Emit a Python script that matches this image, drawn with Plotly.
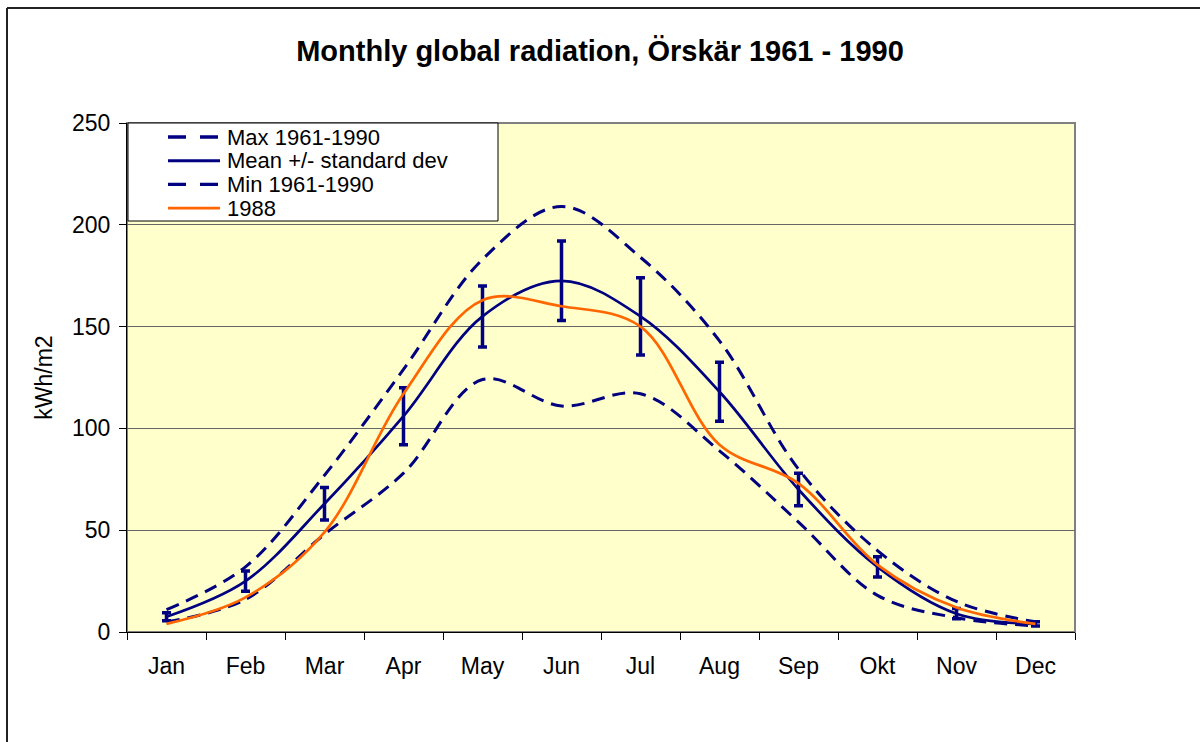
import plotly.graph_objects as go

months = ["Jan", "Feb", "Mar", "Apr", "May", "Jun", "Jul", "Aug", "Sep", "Okt", "Nov", "Dec"]
max_vals = [11, 32, 77, 129, 183, 209, 184, 143, 80, 40, 15, 5]
mean_vals = [7.5, 25, 63, 106, 155, 172.5, 155, 118, 70, 32, 9, 4]
sd_vals = [2, 5, 8, 14, 15, 19.5, 19, 14.5, 8, 5, 2.5, 1]
min_vals = [5, 16, 48, 78, 124, 111, 117, 89, 54, 18, 7, 3]
y1988 = [4, 17, 49, 117, 163, 160, 150, 92, 73, 33, 12, 4]

legend_names = ["Max 1961-1990", "Mean +/- standard dev", "Min 1961-1990", "1988"]

NAVY = "#000080"
ORANGE = "#FF6600"
DASH = "13px,8px"
FONT = "Liberation Sans, Arial, sans-serif"

W, H = 1200, 742
L, R, T, B = 127, 125, 123, 110
PW, PH = W - L - R, H - T - B


def px(x):
    return (x - L) / PW


def py(y):
    return (H - B - y) / PH


fig = go.Figure()
fig.add_trace(go.Scatter(x=months, y=max_vals, mode="lines", name=legend_names[0],
                         line=dict(color=NAVY, width=3, dash=DASH, shape="spline"), showlegend=False))
fig.add_trace(go.Scatter(x=months, y=min_vals, mode="lines", name=legend_names[2],
                         line=dict(color=NAVY, width=3, dash=DASH, shape="spline"), showlegend=False))
fig.add_trace(go.Scatter(x=months, y=mean_vals, mode="lines", name=legend_names[1],
                         line=dict(color=NAVY, width=2.7, shape="spline"),
                         error_y=dict(type="data", array=sd_vals, visible=True, color=NAVY,
                                      thickness=3.5, width=4.5),
                         showlegend=False))
fig.add_trace(go.Scatter(x=months, y=y1988, mode="lines", name=legend_names[3],
                         line=dict(color=ORANGE, width=2.7, shape="spline"), showlegend=False))

shapes = []
# plot area border (top/right gray)
shapes.append(dict(type="rect", xref="paper", yref="paper", x0=0, x1=1, y0=0, y1=1,
                   line=dict(color="#808080", width=2), layer="below"))
# outer chart frame
shapes.append(dict(type="line", xref="paper", yref="paper", x0=px(7), x1=px(W + 5), y0=py(8), y1=py(8),
                   line=dict(color="#222222", width=2)))
shapes.append(dict(type="line", xref="paper", yref="paper", x0=px(7), x1=px(7), y0=py(8), y1=py(H + 5),
                   line=dict(color="#222222", width=2)))
# legend box
shapes.append(dict(type="rect", xref="paper", yref="paper", x0=px(128), x1=px(498), y0=py(221), y1=py(123),
                   fillcolor="white", line=dict(color="black", width=1)))
legend_styles = [
    dict(color=NAVY, width=3.3, dash="18px,14px"),
    dict(color=NAVY, width=3),
    dict(color=NAVY, width=3.3, dash="18px,14px"),
    dict(color=ORANGE, width=2.7),
]
annotations = []
for i, (name, st) in enumerate(zip(legend_names, legend_styles)):
    yy = 137 + i * 23.7
    shapes.append(dict(type="line", xref="paper", yref="paper", x0=px(168), x1=px(220),
                       y0=py(yy), y1=py(yy), line=st))
    annotations.append(dict(xref="paper", yref="paper", x=px(226), y=py(yy), text=name,
                            showarrow=False, xanchor="left", yanchor="middle", borderpad=0,
                            font=dict(family=FONT, size=22, color="black")))

fig.update_layout(
    width=W, height=H,
    margin=dict(l=L, r=R, t=T, b=B),
    paper_bgcolor="white",
    plot_bgcolor="#FFFFCC",
    title=dict(text="<b>Monthly global radiation, Örskär 1961 - 1990</b>",
               x=0.5, xanchor="center", y=1 - 51 / H, yanchor="middle",
               font=dict(family=FONT, size=29, color="black")),
    font=dict(family=FONT, size=23, color="black"),
    shapes=shapes,
    annotations=annotations,
    showlegend=False,
)
fig.update_xaxes(type="category", range=[-0.5, 11.5], tickson="boundaries", ticks="outside",
                 ticklen=7, tickcolor="black", tickwidth=1, showline=True, linecolor="black",
                 linewidth=1, showgrid=False, ticklabelstandoff=13,
                 tickfont=dict(family=FONT, size=23, color="black"))
fig.update_yaxes(range=[0, 250], dtick=50, ticks="outside", ticklen=7, tickcolor="black",
                 tickwidth=1, showline=True, linecolor="black", linewidth=1,
                 showgrid=True, gridcolor="#666666", gridwidth=1, zeroline=False,
                 ticklabelstandoff=4,
                 tickfont=dict(family=FONT, size=23, color="black"),
                 title=dict(text="kWh/m2", standoff=12, font=dict(family=FONT, size=23, color="black")))

fig.write_html("out.html", config={"displayModeBar": False},
               post_script="document.body.style.margin='0';document.body.style.overflow='hidden';")
